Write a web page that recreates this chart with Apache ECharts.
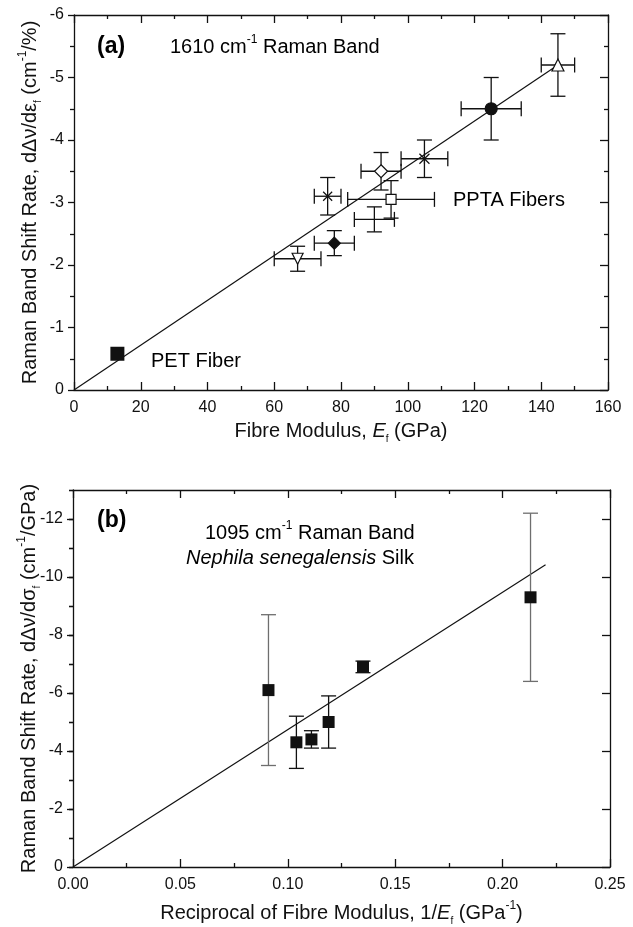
<!DOCTYPE html>
<html><head><meta charset="utf-8">
<script src="https://cdn.jsdelivr.net/npm/echarts@6/dist/echarts.min.js"></script>
<style>html,body{margin:0;padding:0;background:#fff}#c{width:633px;height:927px}</style>
</head><body><div id="c"></div>
<script>
// ---------------- DATA ----------------
// Panel (a): 1610 cm-1 band
const petModulus = [13];
const petRate = [-0.58];
const pptaModulus = [67, 78, 76, 92, 95, 90, 105, 125, 145];
const pptaRate = [-2.1, -2.35, -3.1, -3.5, -3.05, -2.73, -3.7, -4.5, -5.2];
const pptaModulusErr = [7, 6, 4, 6, 13, 6, 7, 9, 5];
const pptaRateErr = [0.2, 0.2, 0.3, 0.3, 0.3, 0.2, 0.3, 0.5, 0.5];
const fitAModulus = [0, 145];
const fitARate = [0, -5.2];
const xTicksA = [0, 20, 40, 60, 80, 100, 120, 140, 160];
const yTicksA = [-6, -5, -4, -3, -2, -1, 0];

// Panel (b): 1095 cm-1 band, silk
const silkRecip = [0.091, 0.104, 0.111, 0.119, 0.135, 0.213];
const silkRate = [-6.1, -4.3, -4.4, -5.0, -6.9, -9.3];
const silkRateErr = [2.6, 0.9, 0.3, 0.9, 0.2, 2.9];
const fitBRecip = [0, 0.22];
const fitBRate = [0, -10.42];
const xTicksB = [0, 0.05, 0.10, 0.15, 0.20, 0.25];
const yTicksB = [-12, -10, -8, -6, -4, -2, 0];
const yRangeB = [-13, 0];

// ---------------- STYLE ----------------
const FONT = '"Liberation Sans", Arial, Helvetica, sans-serif';
const INK = '#111';
const pptaSymbols = [
  {symbol:'triangle', rotate:180, size:11, fill:'#fff'},
  {symbol:'diamond', size:12, fill:INK},
  {symbol:'path://M0,0L10,10M10,0L0,10', size:9, fill:'none'},
  {symbol:'diamond', size:13, fill:'#fff'},
  {symbol:'rect', size:10, fill:'#fff'},
  {symbol:'none', size:0, fill:'none'},
  {symbol:'path://M0,0L10,10M10,0L0,10M5,0L5,10', size:10, fill:'none'},
  {symbol:'circle', size:12, fill:INK},
  {symbol:'triangle', size:12, fill:'#fff'}
];
const silkErrColors = ['#6e6e6e', INK, INK, INK, INK, '#6e6e6e'];

const rich = {
  n: {fontSize:20, fontFamily:FONT, color:INK, lineHeight:26},
  i: {fontSize:20, fontFamily:FONT, fontStyle:'italic', color:INK, lineHeight:26},
  b: {fontSize:23, fontFamily:FONT, fontWeight:'bold', color:INK, lineHeight:26},
  sup: {fontSize:12, fontFamily:FONT, color:INK, verticalAlign:'top', lineHeight:12},
  sub: {fontSize:10, fontFamily:FONT, color:INK, verticalAlign:'bottom', lineHeight:13}
};

function errRender(colors) {
  return function (params, api) {
    const x = api.value(0), y = api.value(1), ex = api.value(2), ey = api.value(3);
    const col = colors ? colors[params.dataIndex] : INK;
    const st = {stroke: col, lineWidth: 1.3};
    const ch = [];
    const cap = 7.5;
    if (ex) {
      const l = api.coord([x - ex, y]), r = api.coord([x + ex, y]);
      ch.push({type:'line', shape:{x1:l[0], y1:l[1], x2:r[0], y2:r[1]}, style:st});
      ch.push({type:'line', shape:{x1:l[0], y1:l[1]-cap, x2:l[0], y2:l[1]+cap}, style:st});
      ch.push({type:'line', shape:{x1:r[0], y1:r[1]-cap, x2:r[0], y2:r[1]+cap}, style:st});
    }
    if (ey) {
      const t = api.coord([x, y - ey]), b = api.coord([x, y + ey]);
      ch.push({type:'line', shape:{x1:t[0], y1:t[1], x2:b[0], y2:b[1]}, style:st});
      ch.push({type:'line', shape:{x1:t[0]-cap, y1:t[1], x2:t[0]+cap, y2:t[1]}, style:st});
      ch.push({type:'line', shape:{x1:b[0]-cap, y1:b[1], x2:b[0]+cap, y2:b[1]}, style:st});
    }
    return {type:'group', children: ch};
  };
}

const lineSt = {color: INK, width: 1.3};
const tickLbl = {fontSize:16, fontFamily:FONT, color:INK};

function xAx(grid, ticks, pos, opts) {
  const base = {
    type:'value', gridIndex:grid, position:pos,
    min:ticks[0], max:ticks[ticks.length-1], interval:ticks[1]-ticks[0],
    axisLine:{show:true, onZero:false, lineStyle:lineSt},
    axisTick:{show:true, inside:true, length:8, lineStyle:lineSt},
    minorTick:{show:true, splitNumber:2, length:4, lineStyle:lineSt},
    splitLine:{show:false}, minorSplitLine:{show:false},
    axisLabel:{show:false}
  };
  return Object.assign(base, opts || {});
}
function yAx(grid, min, max, interval, pos, inside, opts) {
  const base = {
    type:'value', gridIndex:grid, position:pos, inverse:true,
    min:min, max:max, interval:interval,
    axisLine:{show:true, onZero:false, lineStyle:lineSt},
    axisTick:{show:true, inside:inside, length: inside ? 8 : 6, lineStyle:lineSt},
    minorTick:{show:true, splitNumber:2, length:4, lineStyle:lineSt},
    splitLine:{show:false}, minorSplitLine:{show:false},
    axisLabel:{show:false}
  };
  return Object.assign(base, opts || {});
}

const option = {
  animation:false,
  backgroundColor:'#fff',
  grid:[
    {left:74, top:15, width:534, height:375},
    {left:73, top:490, width:537, height:377}
  ],
  xAxis:[
    xAx(0, xTicksA, 'bottom', {
      axisLabel:Object.assign({show:true, margin:10}, tickLbl),
      name:'{n|Fibre Modulus, }{i|E}{sub|f}{n| (GPa)}',
      nameLocation:'middle', nameGap:28, nameMoveOverlap:false,
      nameTextStyle:{rich:rich}
    }),
    xAx(0, xTicksA, 'top'),
    xAx(1, xTicksB, 'bottom', {
      axisLabel:Object.assign({show:true, margin:10, formatter:v => v.toFixed(2)}, tickLbl),
      name:'{n|Reciprocal of Fibre Modulus, 1/}{i|E}{sub|f}{n| (GPa}{sup|-1}{n|)}',
      nameLocation:'middle', nameGap:33, nameMoveOverlap:false,
      nameTextStyle:{rich:rich}
    }),
    xAx(1, xTicksB, 'top')
  ],
  yAxis:[
    yAx(0, yTicksA[0], yTicksA[yTicksA.length-1], 1, 'left', false, {
      axisLabel:Object.assign({show:true, margin:10}, tickLbl),
      minorTick:{show:true, splitNumber:2, length:4, lineStyle:lineSt},
      name:'{n|Raman Band Shift Rate, dΔν/dε}{sub|f}{n| (cm}{sup|-1}{n|/%)}',
      nameLocation:'middle', nameGap:31, nameRotate:90, nameMoveOverlap:false,
      nameTextStyle:{rich:rich}
    }),
    yAx(0, yTicksA[0], yTicksA[yTicksA.length-1], 1, 'right', true),
    // panel b main left axis: majors every 2
    yAx(1, yRangeB[0], yRangeB[1], null, 'left', false, {
      axisTick:{show:true, inside:false, length:6, lineStyle:lineSt, customValues:yTicksB},
      minorTick:{show:false},
      axisLabel:Object.assign({show:true, margin:10, customValues:yTicksB,
        formatter: v => (Math.round(v) % 2 === 0 ? String(v) : '')}, tickLbl),
      name:'{n|Raman Band Shift Rate, dΔν/dσ}{sub|f}{n| (cm}{sup|-1}{n|/GPa)}',
      nameLocation:'middle', nameGap:31, nameRotate:90, nameMoveOverlap:false,
      nameTextStyle:{rich:rich}
    }),
    yAx(1, yRangeB[0], yRangeB[1], null, 'right', true, {
      axisTick:{show:true, inside:true, length:8, lineStyle:lineSt, customValues:yTicksB},
      minorTick:{show:false}
    }),
    // panel b minor ticks (every 1)
    yAx(1, yRangeB[0], yRangeB[1], 1, 'left', false, {
      axisLine:{show:false}, axisTick:{show:true, inside:false, length:4, lineStyle:lineSt},
      minorTick:{show:false}
    }),
    yAx(1, yRangeB[0], yRangeB[1], 1, 'right', true, {
      axisLine:{show:false}, axisTick:{show:true, inside:true, length:4, lineStyle:lineSt},
      minorTick:{show:false}
    })
  ],
  series:[
    {type:'line', xAxisIndex:0, yAxisIndex:0, showSymbol:false, symbol:'none', silent:true,
     lineStyle:{color:INK, width:1.2}, z:2,
     data: fitAModulus.map((x,i)=>[x, fitARate[i]])},
    {type:'custom', xAxisIndex:0, yAxisIndex:0, renderItem: errRender(null), z:3, silent:true,
     encode:{x:0, y:1},
     data: pptaModulus.map((x,i)=>[x, pptaRate[i], pptaModulusErr[i], pptaRateErr[i]])},
    {type:'scatter', xAxisIndex:0, yAxisIndex:0, z:5, silent:true,
     data: pptaModulus.map((x,i)=>({
       value:[x, pptaRate[i]], symbol:pptaSymbols[i].symbol, symbolSize:pptaSymbols[i].size,
       symbolRotate:pptaSymbols[i].rotate || 0,
       itemStyle:{color:pptaSymbols[i].fill, borderColor:INK, borderWidth:1.2, opacity:1}
     }))},
    {type:'scatter', xAxisIndex:0, yAxisIndex:0, z:5, silent:true, symbol:'rect', symbolSize:14,
     itemStyle:{color:INK, opacity:1},
     data: petModulus.map((x,i)=>[x, petRate[i]])},
    {type:'line', xAxisIndex:2, yAxisIndex:2, showSymbol:false, symbol:'none', silent:true,
     lineStyle:{color:INK, width:1.2}, z:2,
     data: fitBRecip.map((x,i)=>[x, fitBRate[i]])},
    {type:'custom', xAxisIndex:2, yAxisIndex:2, renderItem: errRender(silkErrColors), z:3, silent:true,
     encode:{x:0, y:1},
     data: silkRecip.map((x,i)=>[x, silkRate[i], 0, silkRateErr[i]])},
    {type:'scatter', xAxisIndex:2, yAxisIndex:2, z:5, silent:true, symbol:'rect', symbolSize:12,
     itemStyle:{color:INK, opacity:1},
     data: silkRecip.map((x,i)=>[x, silkRate[i]])}
  ],
  graphic:[
    {type:'text', x:97, y:47, style:{text:'{b|(a)}', rich:rich, align:'left', verticalAlign:'middle'}},
    {type:'text', x:170, y:47, style:{text:'{n|1610 cm}{sup|-1}{n| Raman Band}', rich:rich, align:'left', verticalAlign:'middle'}},
    {type:'text', x:453, y:200, style:{text:'{n|PPTA Fibers}', rich:rich, align:'left', verticalAlign:'middle'}},
    {type:'text', x:151, y:361, style:{text:'{n|PET Fiber}', rich:rich, align:'left', verticalAlign:'middle'}},
    {type:'text', x:97, y:521, style:{text:'{b|(b)}', rich:rich, align:'left', verticalAlign:'middle'}},
    {type:'text', x:205, y:533, style:{text:'{n|1095 cm}{sup|-1}{n| Raman Band}', rich:rich, align:'left', verticalAlign:'middle'}},
    {type:'text', x:186, y:558, style:{text:'{i|Nephila senegalensis}{n| Silk}', rich:rich, align:'left', verticalAlign:'middle'}}
  ]
};
const chart = echarts.init(document.getElementById('c'), null, {renderer:'canvas'});
chart.setOption(option);
</script></body></html>
